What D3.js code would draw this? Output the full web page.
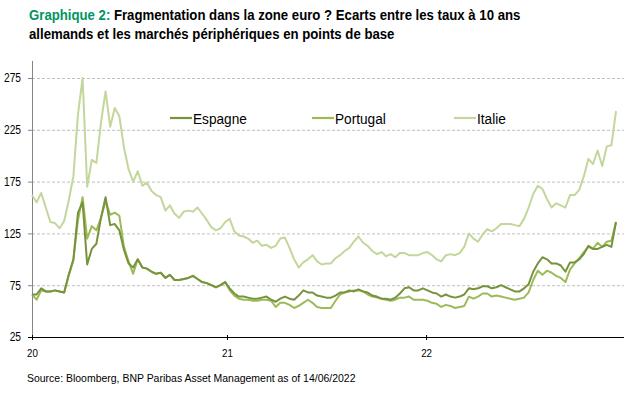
<!DOCTYPE html>
<html>
<head>
<meta charset="utf-8">
<script src="https://cdn.jsdelivr.net/npm/d3@7"></script>
<style>
  body { margin: 0; background: #fff; }
  svg { display: block; }
  text { font-family: "Liberation Sans Narrow", "Arial Narrow", "Liberation Sans", sans-serif; }
</style>
</head>
<body>
<script>
// series names and colours
var seriesNames = ["Espagne", "Portugal", "Italie"];
var seriesColors = ["#77933C", "#9BBB59", "#C3D69B"];

// weekly spreads vs Bund (pb), jan 2020 -> 14/06/2022
var espagne = [66,66,72,69,69,70,69,68,85,100,145,155,95,110,115,140,160,133,134,128,
  109,96,92,100,92,91,88,86,87,82,85,80,80,81,82,84,81,78,77,75,
  73,75,78,72,67,64,64,63,62,62,63,64,61,59,62,64,62,61,65,70,
  68,68,65,64,63,63,65,68,68,70,69,71,69,68,65,64,62,62,61,63,
  67,72,73,70,70,72,70,68,67,64,66,64,63,64,66,72,71,72,74,74,
  72,73,75,73,71,69,69,72,76,88,96,102,100,96,96,94,88,97,97,100,
  105,113,110,110,112,114,112,136];
var portugal = [66,61,70,69,69,70,69,68,85,99,138,160,120,132,128,140,156,143,145,142,
  112,98,86,100,92,91,88,86,87,82,85,80,80,81,82,84,81,78,77,75,
  73,75,78,70,65,62,61,61,60,60,61,61,60,54,58,58,56,53,55,58,
  61,58,54,53,53,53,60,66,68,69,70,70,69,66,64,63,62,61,60,61,
  63,63,64,61,61,61,60,58,57,54,56,55,53,54,55,64,62,64,67,67,
  64,65,64,63,62,61,62,63,68,80,89,85,89,87,84,82,78,90,96,101,
  107,112,110,116,112,117,118,136];
var italie = [162,155,164,150,136,135,130,137,157,180,240,275,170,196,193,232,262,228,246,238,
  208,187,175,185,171,174,166,162,160,147,152,144,140,146,147,146,150,144,138,131,
  128,130,136,139,127,123,122,120,116,118,113,114,111,113,120,121,111,100,92,97,
  100,104,98,95,96,96,101,104,108,111,117,122,116,113,108,105,107,103,105,102,
  106,106,104,104,104,106,107,104,100,98,104,105,104,106,112,125,120,117,124,129,
  127,130,134,134,134,133,132,139,150,163,171,168,158,150,154,152,150,162,162,167,
  180,197,192,205,190,209,210,243];

// axis labels
var yTicks = [25, 75, 125, 175, 225, 275];
var xTickLabels = ["20", "21", "22"];
var xTickIdx = [0, 42.4, 85.7];   // week index where Excel put each label

var allSeries = [espagne, portugal, italie];

var width = 624, height = 393;
var svg = d3.select("body").append("svg")
  .attr("width", width)
  .attr("height", height);

// no narrow font here: squeeze text to the width of the original
function squeeze(sel, k) {
  sel.each(function() {
    var w = this.getComputedTextLength();
    d3.select(this).attr("textLength", w * k).attr("lengthAdjust", "spacingAndGlyphs");
  });
}

// titre : same horizontal squeeze on both lines
var t1 = svg.append("text")
  .attr("font-size", 15.5).attr("font-weight", "bold");
t1.append("tspan").attr("fill", "#00965E").text("Graphique 2:");
t1.append("tspan").attr("fill", "#000").text("\u00a0Fragmentation dans la zone euro ? Ecarts entre les taux à 10 ans");
var t2 = svg.append("text")
  .attr("font-size", 15.5).attr("font-weight", "bold").attr("fill", "#000")
  .text("allemands et les marchés périphériques en points de base");
var kTitle = Math.min(1, 492 / t1.node().getBBox().width);
t1.attr("transform", "translate(29,20) scale(" + kTitle + ",1)");
t2.attr("transform", "translate(29,39) scale(" + kTitle + ",1)");

// scales
var x = d3.scaleLinear()
  .domain([0, espagne.length - 1])
  .range([32, 616]);
var y = d3.scaleLinear()
  .domain([25, 292])
  .range([337, 60.4]);

// grid
var grid = svg.append("g")
  .attr("transform", "translate(32,0)")
  .call(d3.axisLeft(y).tickValues(yTicks.slice(1)).tickSize(-(width - 32)).tickFormat(""));
grid.select(".domain").remove();
grid.selectAll("line")
  .attr("stroke", "#BFBFBF")
  .attr("stroke-dasharray", "3,2");

// y axis
var yAxis = svg.append("g")
  .attr("transform", "translate(32,0)")
  .call(d3.axisLeft(y).tickValues(yTicks).tickSize(4).tickSizeOuter(0).tickPadding(7));
yAxis.select(".domain").attr("stroke", "#868686");
yAxis.selectAll("line").attr("stroke", "#868686");
yAxis.selectAll("text")
  .attr("font-size", 12)
  .attr("fill", "#000")
  .style("font-family", '"Liberation Sans Narrow", "Arial Narrow", "Liberation Sans", sans-serif');
squeeze(yAxis.selectAll("text"), 0.85);

// lines
var line = d3.line()
  .x(function(d, i) { return x(i); })
  .y(function(d) { return y(d); });

// draw Italie first so Espagne sits on top
[2, 1, 0].forEach(function(k) {
  svg.append("path")
    .datum(allSeries[k])
    .attr("fill", "none")
    .attr("stroke", seriesColors[k])
    .attr("stroke-width", 2)
    .attr("stroke-linejoin", "round")
    .attr("d", line);
});

// x axis
var xAxis = svg.append("g")
  .attr("transform", "translate(0,337)")
  .call(d3.axisBottom(x)
    .tickValues(xTickIdx)
    .tickFormat(function(d, i) { return xTickLabels[i]; })
    .tickSize(3).tickSizeOuter(0).tickPadding(9));
xAxis.select(".domain").attr("d", "M28,0.5H624").attr("stroke", "#000");
xAxis.selectAll("line").attr("stroke", "#000").attr("y1", -2);
xAxis.selectAll("text")
  .attr("font-size", 11.5)
  .attr("fill", "#000")
  .style("font-family", '"Liberation Sans Narrow", "Arial Narrow", "Liberation Sans", sans-serif');
squeeze(xAxis.selectAll("text"), 0.85);

// legend
var legendX = [170, 312, 454];
var legend = svg.append("g");
seriesNames.forEach(function(name, i) {
  legend.append("line")
    .attr("x1", legendX[i]).attr("x2", legendX[i] + 22)
    .attr("y1", 118).attr("y2", 118)
    .attr("stroke", seriesColors[i]).attr("stroke-width", 2.2);
  legend.append("text")
    .attr("x", legendX[i] + 23).attr("y", 123.5)
    .attr("font-size", 15.5).attr("fill", "#000")
    .text(name);
});
squeeze(legend.selectAll("text"), 0.88);

// source
var src = svg.append("text")
  .attr("x", 27).attr("y", 382)
  .attr("font-size", 11.5).attr("fill", "#000")
  .text("Source: Bloomberg, BNP Paribas Asset Management as of 14/06/2022");
squeeze(src, 0.91);
</script>
</body>
</html>
